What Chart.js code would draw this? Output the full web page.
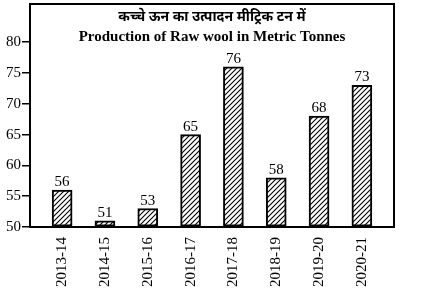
<!DOCTYPE html>
<html>
<head>
<meta charset="utf-8">
<script src="https://cdn.jsdelivr.net/npm/chart.js@4.4.1/dist/chart.umd.min.js"></script>
<style>
  html, body { margin: 0; padding: 0; background: #fff; }
  #wrap { width: 424px; height: 294px; position: relative; }
</style>
</head>
<body>
<div id="wrap"><canvas id="wool-chart"></canvas></div>
<script>
// data
const years = ['2013-14', '2014-15', '2015-16', '2016-17', '2017-18', '2018-19', '2019-20', '2020-21'];
const production = [56, 51, 53, 65, 76, 58, 68, 73];
const yTicks = [50, 55, 60, 65, 70, 75, 80];
const titleHindi = 'कच्चे ऊन का उत्पादन मीट्रिक टन में';
const titleEnglish = 'Production of Raw wool in Metric Tonnes';

const SERIF = '"Liberation Serif", "DejaVu Serif", serif';

// diagonal hatch fill ////
function makeHatch() {
  const s = 5;
  const c = document.createElement('canvas');
  c.width = s; c.height = s;
  const g = c.getContext('2d');
  g.fillStyle = '#fff';
  g.fillRect(0, 0, s, s);
  g.strokeStyle = '#000';
  g.lineWidth = 1.1;
  g.beginPath();
  g.moveTo(-1, s + 1); g.lineTo(s + 1, -1);
  g.moveTo(-1, 1); g.lineTo(1, -1);
  g.moveTo(s - 1, s + 1); g.lineTo(s + 1, s - 1);
  g.stroke();
  return g.createPattern(c, 'repeat');
}

// frame, titles and value labels
const decorPlugin = {
  id: 'decor',
  afterDatasetsDraw(chart) {
    const { ctx, chartArea: a } = chart;
    const meta = chart.getDatasetMeta(0);
    ctx.save();
    ctx.fillStyle = '#000';
    ctx.textAlign = 'center';
    ctx.textBaseline = 'alphabetic';
    ctx.font = '15px ' + SERIF;
    meta.data.forEach((bar, i) => {
      ctx.fillText(String(production[i]), bar.x, bar.y - 4);
    });

    const cx = (a.left + a.right) / 2;
    ctx.textBaseline = 'middle';
    ctx.font = 'bold 14px "Noto Sans", "DejaVu Sans", sans-serif';
    ctx.fillText(titleHindi, cx, a.top + 13);
    ctx.font = 'bold 15px ' + SERIF;
    ctx.fillText(titleEnglish, cx, a.top + 33);

    ctx.strokeStyle = '#000';
    ctx.lineWidth = 2;
    ctx.strokeRect(a.left, a.top, a.right - a.left, a.bottom - a.top);
    ctx.restore();
  }
};

new Chart(document.getElementById('wool-chart'), {
  type: 'bar',
  data: {
    datasets: [{
      data: production.map((v, i) => ({ x: i, y: v })),
      base: 50,
      backgroundColor: makeHatch(),
      borderColor: '#000',
      borderWidth: 2,
      borderSkipped: false,
      barThickness: 20
    }]
  },
  options: {
    responsive: true,
    maintainAspectRatio: false,
    animation: false,
    layout: { padding: { top: 4, right: 30, left: 0, bottom: 0 } },
    plugins: {
      legend: { display: false },
      tooltip: { enabled: false }
    },
    scales: {
      x: {
        type: 'linear',
        offset: false,
        min: -0.75,
        max: 7.75,
        afterBuildTicks: scale => { scale.ticks = years.map((_, i) => ({ value: i })); },
        afterFit: scale => {
          scale.height = 67;
          scale.paddingLeft = 0;
          scale.paddingRight = 0;
        },
        grid: { display: false },
        border: { display: false },
        ticks: {
          color: '#000',
          font: { size: 15, family: SERIF },
          minRotation: 90,
          maxRotation: 90,
          autoSkip: false,
          padding: 2,
          callback: v => years[v]
        }
      },
      y: {
        min: 50,
        max: 86.2,
        afterBuildTicks: scale => { scale.ticks = yTicks.map(v => ({ value: v })); },
        afterFit: scale => {
          scale.width = 30;
          scale.paddingTop = 0;
          scale.paddingBottom = 0;
        },
        grid: {
          drawOnChartArea: false,
          drawTicks: true,
          tickLength: 8,
          color: '#000',
          lineWidth: 1.5
        },
        border: { display: false },
        ticks: {
          color: '#000',
          font: { size: 15, family: SERIF },
          padding: 1
        }
      }
    }
  },
  plugins: [decorPlugin]
});
</script>
</body>
</html>
